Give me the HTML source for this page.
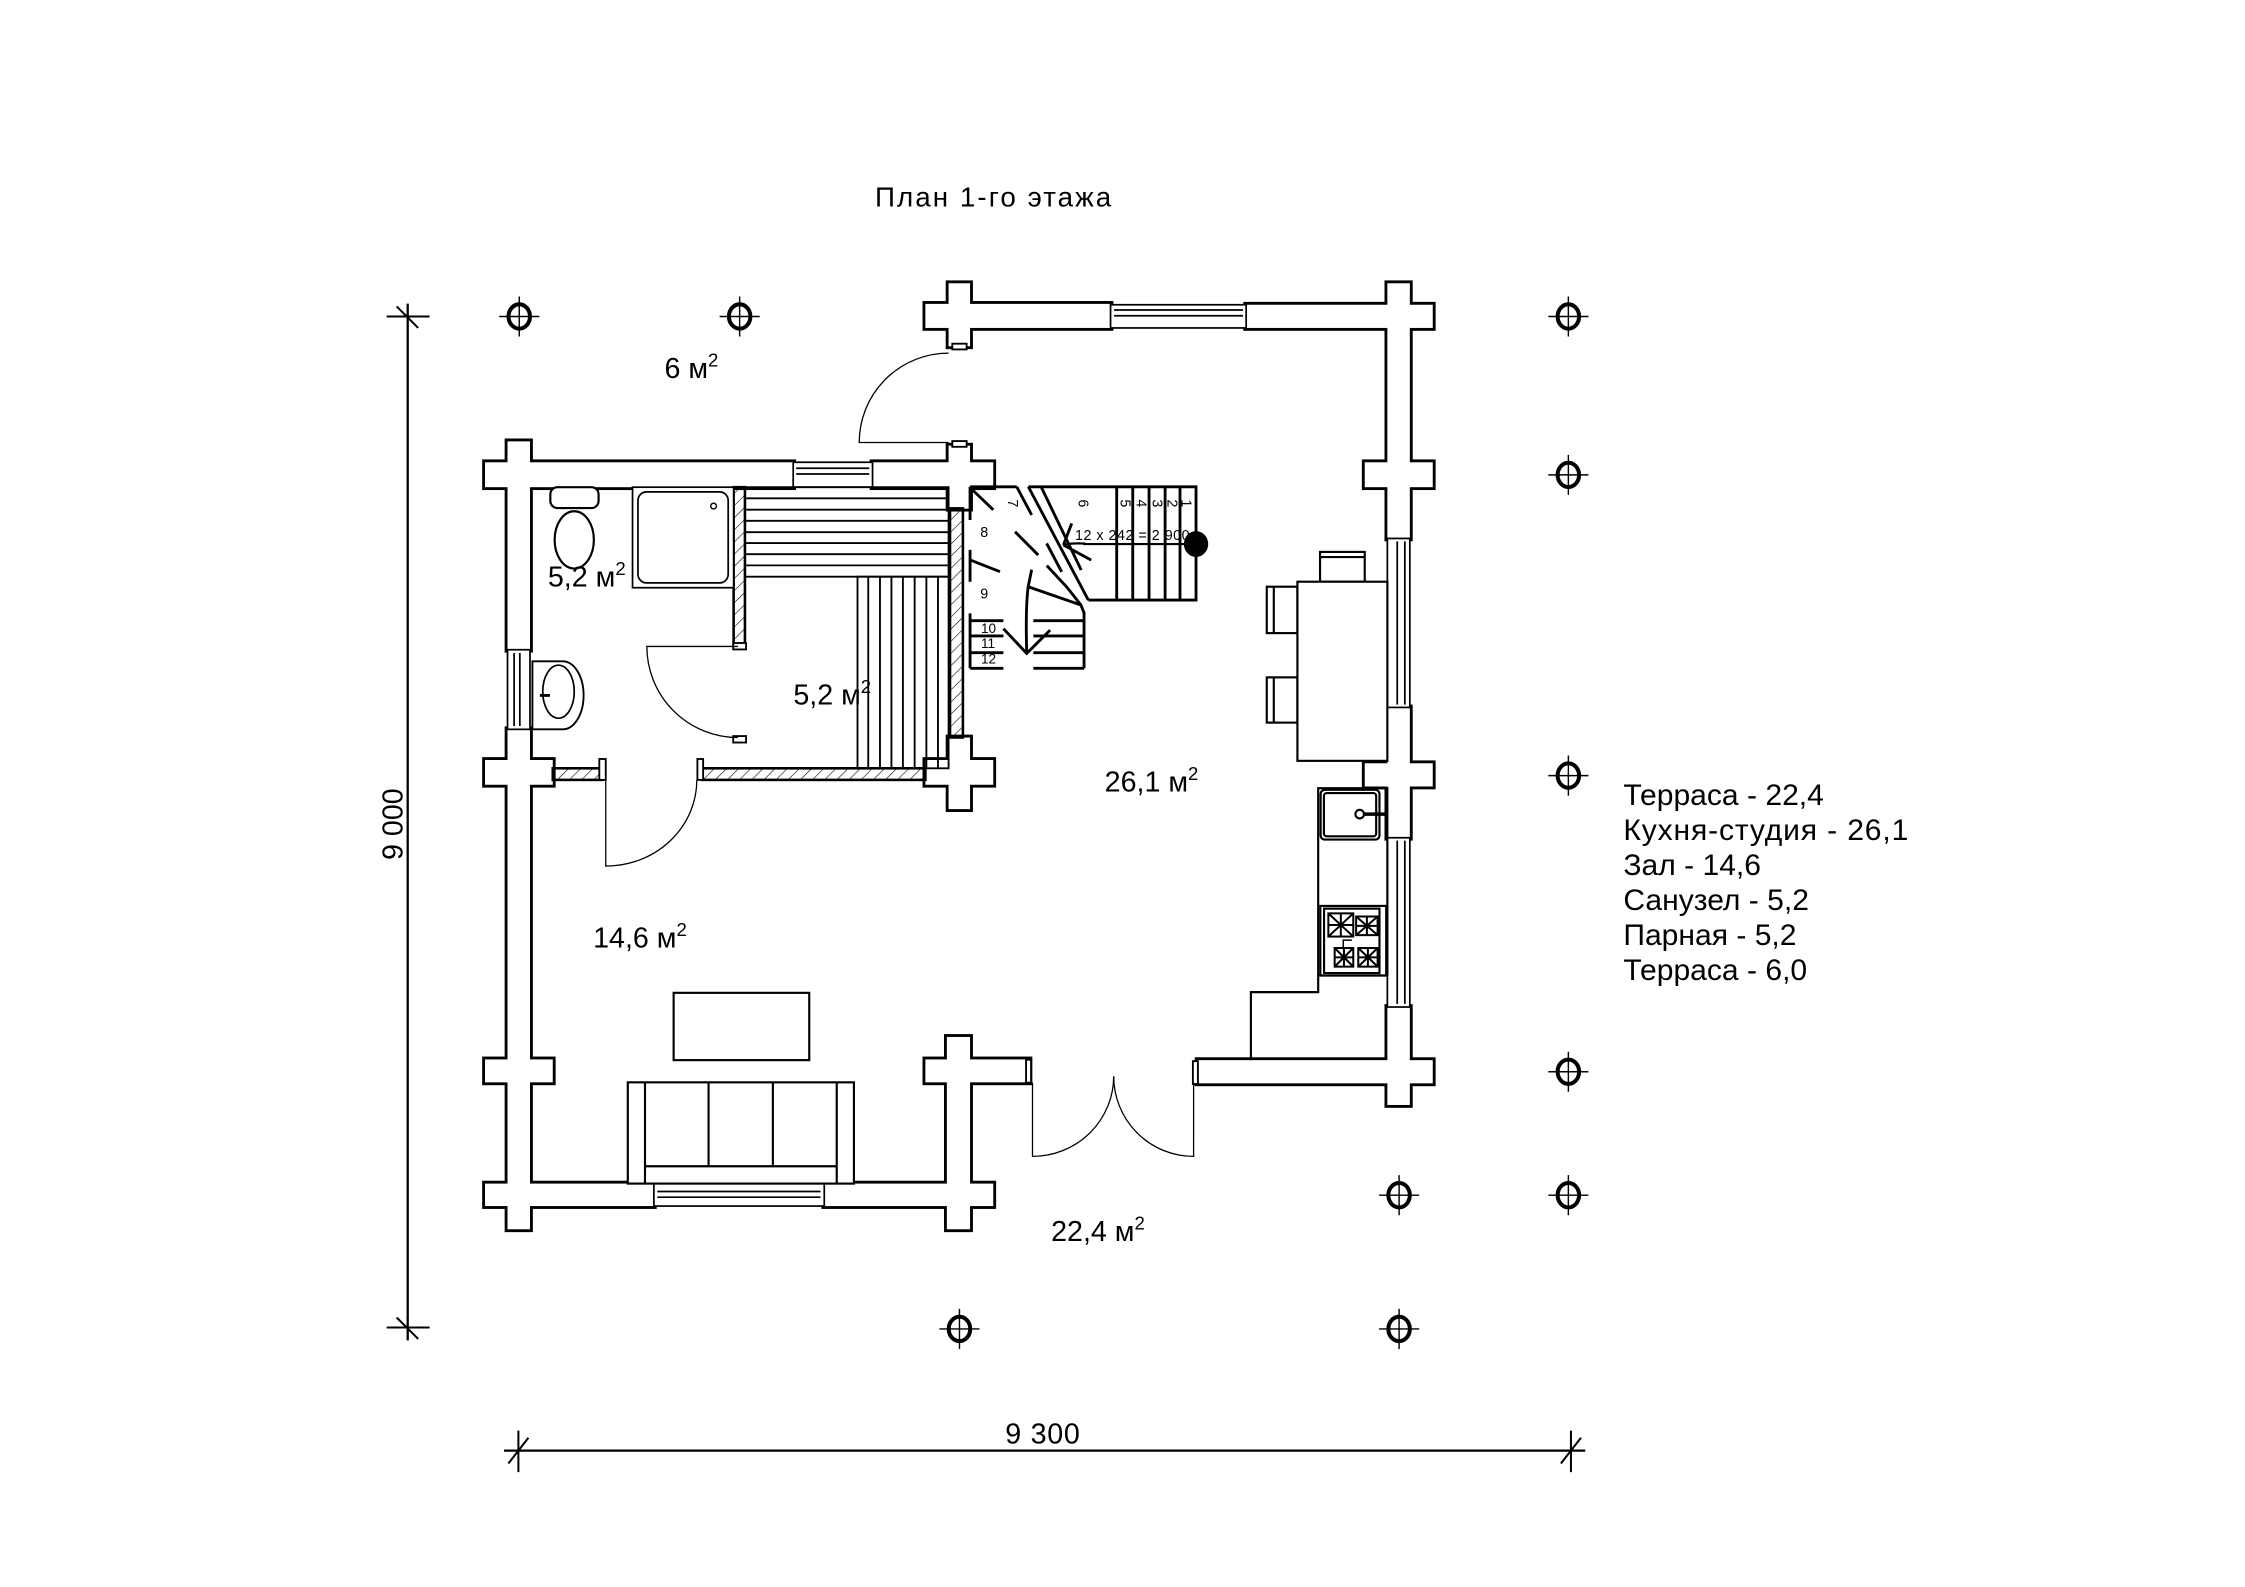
<!DOCTYPE html>
<html><head><meta charset="utf-8"><style>
html,body{margin:0;padding:0;background:#fff}
svg{display:block}
text{font-family:"Liberation Sans","DejaVu Sans",sans-serif;fill:#000}
</style></head><body>
<svg xmlns="http://www.w3.org/2000/svg" width="2245" height="1587" viewBox="0 0 1567.7 1108.2">
<defs>
<pattern id="h" width="6" height="6" patternUnits="userSpaceOnUse" patternTransform="rotate(45)">
<line x1="0" y1="0" x2="0" y2="6" stroke="#000" stroke-width="0.8"/>
</pattern>
</defs>
<rect width="1567.7" height="1108.2" fill="#fff"/>

<text x="611" y="144.3" font-size="19.4" textLength="165">План 1-го этажа</text>

<g stroke="#000" fill="none">
<line x1="284.7" y1="212" x2="284.7" y2="936" stroke-width="1.6"/>
<line x1="270" y1="221" x2="300" y2="221" stroke-width="1.4"/>
<line x1="277" y1="214" x2="292" y2="229" stroke-width="1.4"/>
<line x1="270" y1="927" x2="300" y2="927" stroke-width="1.4"/>
<line x1="277" y1="920" x2="292" y2="935" stroke-width="1.4"/>
<line x1="352" y1="1013" x2="1107" y2="1013" stroke-width="1.6"/>
<line x1="362" y1="999" x2="362" y2="1028" stroke-width="1.4"/>
<line x1="355" y1="1022" x2="369" y2="1004" stroke-width="1.4"/>
<line x1="1097" y1="999" x2="1097" y2="1028" stroke-width="1.4"/>
<line x1="1090" y1="1022" x2="1104" y2="1004" stroke-width="1.4"/>
</g>
<text transform="translate(281,575.5) rotate(-90)" font-size="20" text-anchor="middle">9 000</text>
<text x="728" y="1008" font-size="20" text-anchor="middle" textLength="52">9 300</text>

<g stroke="#000" fill="none">
<g transform="translate(362.6,221)"><ellipse rx="7.5" ry="8.5" stroke-width="2.8"/><path d="M-14 0H14M0 -14V14" stroke-width="1"/></g>
<g transform="translate(516.5,221)"><ellipse rx="7.5" ry="8.5" stroke-width="2.8"/><path d="M-14 0H14M0 -14V14" stroke-width="1"/></g>
<g transform="translate(1095.2,221)"><ellipse rx="7.5" ry="8.5" stroke-width="2.8"/><path d="M-14 0H14M0 -14V14" stroke-width="1"/></g>
<g transform="translate(1095.2,331.6)"><ellipse rx="7.5" ry="8.5" stroke-width="2.8"/><path d="M-14 0H14M0 -14V14" stroke-width="1"/></g>
<g transform="translate(1095.2,541.6)"><ellipse rx="7.5" ry="8.5" stroke-width="2.8"/><path d="M-14 0H14M0 -14V14" stroke-width="1"/></g>
<g transform="translate(1095.2,748.4)"><ellipse rx="7.5" ry="8.5" stroke-width="2.8"/><path d="M-14 0H14M0 -14V14" stroke-width="1"/></g>
<g transform="translate(1095.2,834.6)"><ellipse rx="7.5" ry="8.5" stroke-width="2.8"/><path d="M-14 0H14M0 -14V14" stroke-width="1"/></g>
<g transform="translate(977,834.6)"><ellipse rx="7.5" ry="8.5" stroke-width="2.8"/><path d="M-14 0H14M0 -14V14" stroke-width="1"/></g>
<g transform="translate(670,928)"><ellipse rx="7.5" ry="8.5" stroke-width="2.8"/><path d="M-14 0H14M0 -14V14" stroke-width="1"/></g>
<g transform="translate(977,928)"><ellipse rx="7.5" ry="8.5" stroke-width="2.8"/><path d="M-14 0H14M0 -14V14" stroke-width="1"/></g>
</g>

<g stroke="#000" stroke-width="4" fill="#000">
<rect x="338.7" y="322.8" width="215.2" height="17.4"/>
<rect x="354.4" y="308.2" width="15.7" height="145.5"/>
<rect x="354.4" y="509.3" width="15.7" height="349.1"/>
<rect x="338.7" y="530.7" width="47.3" height="17.3"/>
<rect x="338.7" y="739.8" width="47.3" height="16"/>
<rect x="338.7" y="826.5" width="117.9" height="15.7"/>
<rect x="575.6" y="826.5" width="118" height="15.7"/>
<rect x="609.3" y="322.8" width="84.3" height="17.4"/>
<rect x="662.4" y="311.2" width="15" height="44"/>
<rect x="662.4" y="515" width="15" height="50"/>
<rect x="646.2" y="530.7" width="47.4" height="17.3"/>
<rect x="661.2" y="724.1" width="16.2" height="134.3"/>
<rect x="646.2" y="739.8" width="72.7" height="16"/>
<rect x="662.4" y="197.8" width="15" height="44"/>
<rect x="646.2" y="212.2" width="129.3" height="16.8"/>
<rect x="870.2" y="212.8" width="130.3" height="16.2"/>
<rect x="968.8" y="197.8" width="15.7" height="178.2"/>
<rect x="953" y="322.8" width="47.5" height="17.4"/>
<rect x="968.8" y="494" width="15.7" height="91"/>
<rect x="953" y="533" width="47.5" height="16.2"/>
<rect x="968.8" y="703.2" width="15.7" height="68.4"/>
<rect x="836.3" y="740.3" width="164.2" height="16.2"/>
</g>
<g fill="#fff">
<rect x="338.7" y="322.8" width="215.2" height="17.4"/>
<rect x="354.4" y="308.2" width="15.7" height="145.5"/>
<rect x="354.4" y="509.3" width="15.7" height="349.1"/>
<rect x="338.7" y="530.7" width="47.3" height="17.3"/>
<rect x="338.7" y="739.8" width="47.3" height="16"/>
<rect x="338.7" y="826.5" width="117.9" height="15.7"/>
<rect x="575.6" y="826.5" width="118" height="15.7"/>
<rect x="609.3" y="322.8" width="84.3" height="17.4"/>
<rect x="662.4" y="311.2" width="15" height="44"/>
<rect x="662.4" y="515" width="15" height="50"/>
<rect x="646.2" y="530.7" width="47.4" height="17.3"/>
<rect x="661.2" y="724.1" width="16.2" height="134.3"/>
<rect x="646.2" y="739.8" width="72.7" height="16"/>
<rect x="662.4" y="197.8" width="15" height="44"/>
<rect x="646.2" y="212.2" width="129.3" height="16.8"/>
<rect x="870.2" y="212.8" width="130.3" height="16.2"/>
<rect x="968.8" y="197.8" width="15.7" height="178.2"/>
<rect x="953" y="322.8" width="47.5" height="17.4"/>
<rect x="968.8" y="494" width="15.7" height="91"/>
<rect x="953" y="533" width="47.5" height="16.2"/>
<rect x="968.8" y="703.2" width="15.7" height="68.4"/>
<rect x="836.3" y="740.3" width="164.2" height="16.2"/>
</g>

<g stroke="#000" fill="#fff" stroke-width="1.2">
<rect x="553.9" y="322.8" width="55.4" height="17.4"/>
<line x1="556" y1="327" x2="607" y2="327"/><line x1="556" y1="331" x2="607" y2="331"/>
<rect x="775.5" y="212.8" width="94.7" height="16.2"/>
<line x1="778" y1="216.5" x2="868" y2="216.5"/><line x1="778" y1="220.5" x2="868" y2="220.5"/>
<rect x="354.4" y="453.7" width="15.7" height="55.6"/>
<line x1="359" y1="456" x2="359" y2="507"/><line x1="363" y1="456" x2="363" y2="507"/>
<rect x="456.6" y="826.5" width="119" height="15.7"/>
<line x1="459" y1="832" x2="573" y2="832"/><line x1="459" y1="836" x2="573" y2="836"/>
<rect x="968.8" y="376" width="15.7" height="118"/>
<line x1="975.7" y1="378" x2="975.7" y2="492"/><line x1="981" y1="378" x2="981" y2="492"/>
<rect x="968.8" y="585" width="15.7" height="118.2"/>
<line x1="975.7" y1="587" x2="975.7" y2="701"/><line x1="981" y1="587" x2="981" y2="701"/>
</g>

<g stroke="#000" stroke-width="1.8" fill="url(#h)">
<rect x="512.3" y="340.2" width="7.9" height="110"/>
<rect x="663.4" y="355" width="9" height="160"/>
<rect x="490.3" y="536.5" width="155.9" height="8.1"/>
<rect x="386" y="536.5" width="34.5" height="8.1"/>
</g>
<g stroke="#000" stroke-width="1.3" fill="#fff">
<rect x="512" y="449" width="9" height="4.5"/>
<rect x="512" y="514" width="9" height="4.5"/>
<rect x="418.5" y="530" width="4.5" height="14.6"/>
<rect x="487" y="530" width="4" height="14.6"/>
<rect x="665" y="240" width="10" height="4"/>
<rect x="665" y="308" width="10" height="4"/>
<rect x="716.5" y="740" width="3.5" height="16"/>
<rect x="833" y="741" width="3.5" height="16"/>
</g>

<g stroke="#000" fill="none" stroke-width="0.9">
<path d="M662.4 309 H600 A62.4 62.4 0 0 1 662.4 246.6" />
<path d="M515.3 451.4 H451.7 A63.6 63.6 0 0 0 515.3 515"/>
<path d="M423 544.6 V604.8 A63.6 60.2 0 0 0 486.6 544.6"/>
<path d="M721 756 V807.5 A56.7 56 0 0 0 777.7 751.6"/>
<path d="M833.5 756 V807.5 A55.8 56 0 0 1 777.7 751.6"/>
</g>

<g stroke="#000" fill="#fff" stroke-width="1.5">
<rect x="384.3" y="340.2" width="33.7" height="14.6" rx="5"/>
<ellipse cx="401" cy="377" rx="13.7" ry="20"/>
<rect x="441.7" y="340.2" width="70.6" height="70.2" stroke-width="1.2"/>
<rect x="445.5" y="343.5" width="63" height="63.5" rx="6" stroke-width="1.2"/>
<circle cx="498.3" cy="353.4" r="2" stroke-width="1"/>
<path d="M371.8 461.8 H393 A14.5 23.7 0 0 1 393 509.3 H371.8 Z" stroke-width="1.3"/>
<ellipse cx="390" cy="483" rx="11" ry="18.5" stroke-width="1.2"/>
<line x1="377" y1="485.6" x2="384" y2="485.6" stroke-width="2"/>
</g>

<g stroke="#000" fill="none" stroke-width="1.3">
<rect x="520.2" y="340.2" width="142.2" height="62.5"/>
<path d="M520.2 348H662.4M520.2 355.9H662.4M520.2 363.7H662.4M520.2 371.6H662.4M520.2 379.2H662.4M520.2 387H662.4M520.2 394.8H662.4"/>
<rect x="598.8" y="402.7" width="63.6" height="133.8"/>
<path d="M606.3 402.7V536.5M614.5 402.7V536.5M622.5 402.7V536.5M630.5 402.7V536.5M638.7 402.7V536.5M646.9 402.7V536.5M655 402.7V536.5"/>
</g>

<g stroke="#000" fill="#fff" stroke-width="1.5">
<rect x="470.4" y="693.3" width="94.7" height="47"/>
<rect x="438.4" y="755.8" width="157.9" height="70.7"/>
<path d="M450.4 755.8V826.5M584.3 755.8V826.5M450.4 814.4H584.3M494.8 755.8V814.4M539.7 755.8V814.4" fill="none"/>
</g>

<g stroke="#000" fill="#fff" stroke-width="1.5">
<rect x="921.8" y="385.4" width="31.2" height="20.8"/>
<line x1="921.8" y1="389" x2="953" y2="389"/>
<rect x="884.6" y="409.7" width="21.4" height="32.4"/>
<line x1="889.5" y1="409.7" x2="889.5" y2="442.1"/>
<rect x="884.6" y="473" width="21.4" height="31.6"/>
<line x1="889.5" y1="473" x2="889.5" y2="504.6"/>
<rect x="906" y="406.2" width="62.8" height="125.1"/>
</g>

<g stroke="#000" fill="none" stroke-width="1.5">
<rect x="920.5" y="550.4" width="48.3" height="130.8"/>
<rect x="922.2" y="551.5" width="41.1" height="34.8" rx="3"/>
<rect x="924.5" y="553.8" width="36.5" height="30.2" rx="2"/>
<circle cx="949.5" cy="568.5" r="3" fill="#fff"/>
<line x1="952.5" y1="568.5" x2="968" y2="568.5" stroke-width="2.5"/>
<rect x="922" y="632.6" width="46" height="48.6"/>
<rect x="924.6" y="634.5" width="38.7" height="45"/>
<polyline points="920.5,681.2 920.5,692.8 873.5,692.8 873.5,740.3"/>
<g stroke-width="1.4">
<rect x="927.6" y="637.8" width="17.4" height="16.2"/><path d="M927.6 637.8L945 654M945 637.8L927.6 654M936.3 637.8V654M927.6 645.9H945"/>
<rect x="947" y="640" width="15" height="13"/><path d="M947 640L962 653M962 640L947 653M954.5 640V653M947 646.5H962"/>
<rect x="932" y="662" width="13" height="13"/><path d="M932 662L945 675M945 662L932 675M938.5 662V675M932 668.5H945"/>
<rect x="948.5" y="662" width="13.5" height="13"/><path d="M948.5 662L962 675M962 662L948.5 675M955.2 662V675M948.5 668.5H962"/>
</g>
<path d="M938 662V656.5H944" stroke-width="1"/>
</g>

<g stroke="#000" fill="none" stroke-width="2">
<path d="M677.4 339.9H710M718.1 339.9H835.2V419H760"/>
<path d="M779.8 339.9V419M791 339.9V419M802.4 339.9V419M813.6 339.9V419M824 339.9V419"/>
<line x1="756.5" y1="379.9" x2="835" y2="379.9" stroke-width="1.5"/>
<path d="M742.6 380.6Q748 379 758 379.6" stroke-width="1.5"/>
<line x1="742.6" y1="380.6" x2="748.4" y2="365.5"/>
<line x1="742.6" y1="380.6" x2="762" y2="391.1"/>
<line x1="718.1" y1="339.9" x2="760" y2="419"/>
<line x1="727" y1="339.9" x2="755" y2="398"/>
<line x1="710" y1="339.9" x2="720.4" y2="359.6"/>
<line x1="679" y1="342" x2="693.6" y2="356"/>
<line x1="708.8" y1="371.3" x2="725" y2="387.6"/>
<line x1="730.9" y1="379.5" x2="741.4" y2="399.4"/>
<line x1="677.4" y1="391" x2="698.3" y2="399.2"/>
<path d="M720.4 397.8L718 409.7Q716 425 717 456.3"/>
<path d="M718 409.7L754.8 422.5L757 428V466.7"/>
<path d="M731 395L745 410L754.8 422.5"/>
<path d="M721.6 433.4H757M721.6 444.1H757M721.6 455.8H757M721.6 466.7H757"/>
<path d="M677.4 433.4H700.7M677.4 444.1H700.7M677.4 455.8H700.7M677.4 466.7H700.7"/>
<path d="M677.4 339.9V363.1M677.4 384V406.2M677.4 428.3V466.7"/>
<path d="M700.7 439L717 456.3L733.3 440"/>
</g>
<ellipse cx="835.2" cy="379.9" rx="8.5" ry="9" fill="#000"/>
<g font-size="10">
<text x="750.7" y="377.1" textLength="80">12 x 242 = 2 900</text>
<text x="684.5" y="375">8</text>
<text x="684.5" y="418">9</text>
<text x="685" y="442" font-size="9.5">10</text>
<text x="685" y="452.5" font-size="9.5">11</text>
<text x="685" y="463.5" font-size="9.5">12</text>
<text transform="translate(704,351.5) rotate(90)" text-anchor="middle">7</text>
<text transform="translate(753,351.5) rotate(90)" text-anchor="middle">6</text>
<text transform="translate(782.5,351.5) rotate(90)" text-anchor="middle">5</text>
<text transform="translate(793.8,351.5) rotate(90)" text-anchor="middle">4</text>
<text transform="translate(804.7,351.5) rotate(90)" text-anchor="middle">3</text>
<text transform="translate(815.4,351.5) rotate(90)" text-anchor="middle">2</text>
<text transform="translate(825.2,351.5) rotate(90)" text-anchor="middle">1</text>
</g>

<g font-size="20">
<text x="464" y="263.8">6 м<tspan font-size="13" dy="-8">2</tspan></text>
<text x="382.6" y="409.7">5,2 м<tspan font-size="13" dy="-8">2</tspan></text>
<text x="554" y="491.9">5,2 м<tspan font-size="13" dy="-8">2</tspan></text>
<text x="771.4" y="552.7">26,1 м<tspan font-size="13" dy="-8">2</tspan></text>
<text x="414.2" y="661.6">14,6 м<tspan font-size="13" dy="-8">2</tspan></text>
<text x="734" y="866.5">22,4 м<tspan font-size="13" dy="-8">2</tspan></text>
</g>

<g font-size="21">
<text x="1133.6" y="562.2">Терраса - 22,4</text>
<text x="1133.6" y="586.6" textLength="199">Кухня-студия - 26,1</text>
<text x="1133.6" y="611">Зал - 14,6</text>
<text x="1133.6" y="635.4">Санузел - 5,2</text>
<text x="1133.6" y="659.8">Парная - 5,2</text>
<text x="1133.6" y="684.2">Терраса - 6,0</text>
</g>
</svg>
</body></html>
